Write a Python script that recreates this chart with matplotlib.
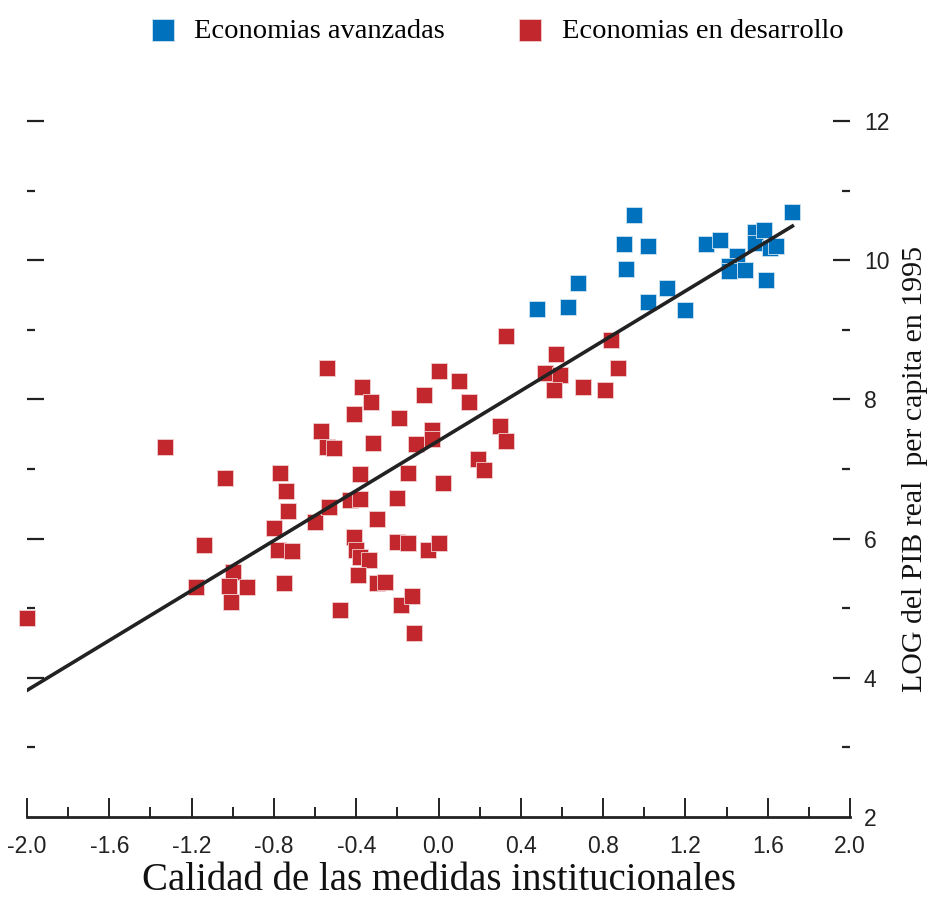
import numpy as np
import matplotlib.pyplot as plt
from matplotlib.ticker import MultipleLocator, FixedLocator

# Economias avanzadas (calidad institucional, log PIB per capita 1995)
adv_x = [0.48, 0.63, 0.68, 0.90, 0.91, 0.95, 1.02, 1.02, 1.11, 1.20,
         1.30, 1.37, 1.45, 1.41, 1.41, 1.49, 1.54, 1.54, 1.58, 1.59,
         1.61, 1.64, 1.72]
adv_y = [9.30, 9.33, 9.67, 10.23, 9.87, 10.65, 10.20, 9.40, 9.60, 9.28,
         10.23, 10.29, 10.06, 9.92, 9.84, 9.86, 10.41, 10.25, 10.43, 9.72,
         10.18, 10.21, 10.69]

# Economias en desarrollo
dev_x = [-2.00, -1.33, -1.14, -1.18, -1.04, -1.00, -1.02, -1.01, -0.93, -0.80,
         -0.77, -0.74, -0.73, -0.78, -0.71, -0.75, -0.60, -0.57, -0.54, -0.54,
         -0.51, -0.53, -0.48, -0.41, -0.37, -0.33, -0.32, -0.38, -0.43, -0.38,
         -0.30, -0.41, -0.40, -0.38, -0.34, -0.39, -0.30, -0.26, -0.19, -0.20,
         -0.20, -0.15, -0.15, -0.18, -0.13, -0.12, -0.11, -0.07, -0.03, -0.03,
         -0.05, 0.00, 0.00, 0.02, 0.10, 0.15, 0.19, 0.22, 0.30, 0.33,
         0.33, 0.52, 0.57, 0.59, 0.56, 0.70, 0.81, 0.84, 0.87]
dev_y = [4.86, 7.32, 5.91, 5.30, 6.87, 5.52, 5.32, 5.09, 5.30, 6.15,
         6.94, 6.68, 6.40, 5.84, 5.82, 5.36, 6.24, 7.55, 8.45, 7.32,
         7.30, 6.45, 4.97, 7.79, 8.18, 7.96, 7.37, 6.93, 6.55, 6.57,
         6.28, 6.02, 5.84, 5.74, 5.69, 5.48, 5.36, 5.38, 7.73, 6.58,
         5.95, 5.94, 6.94, 5.05, 5.18, 4.64, 7.36, 8.07, 7.56, 7.43,
         5.84, 5.94, 8.41, 6.80, 8.26, 7.96, 7.14, 6.98, 7.62, 7.40,
         8.91, 8.38, 8.65, 8.35, 8.13, 8.18, 8.13, 8.85, 8.45]

# recta de tendencia (extremos)
trend_x = [-2.0, 1.72]
trend_y = [3.82, 10.49]

x_ticks = [-2.0, -1.6, -1.2, -0.8, -0.4, 0.0, 0.4, 0.8, 1.2, 1.6, 2.0]
x_labels = ['-2.0', '-1.6', '-1.2', '-0.8', '-0.4', '0.0', '0.4', '0.8', '1.2', '1.6', '2.0']
y_ticks = [2, 4, 6, 8, 10, 12]

blue = '#0071bc'
red = '#c1272d'
serif = ['Liberation Serif', 'DejaVu Serif']
sans = ['Liberation Sans', 'DejaVu Sans']

fig = plt.figure(figsize=(9.32, 9.0), dpi=100)
ax = fig.add_axes([27 / 932, 1 - 817 / 900, (850 - 27) / 932, (817 - 121) / 900])

ax.plot(trend_x, trend_y, color='#222222', linewidth=2.6, zorder=3)
ax.scatter(dev_x, dev_y, marker='s', s=11.5 ** 2, color=red, clip_on=False,
           edgecolors='#f2d0d0', linewidths=0.6, zorder=2, label='Economias en desarrollo')
ax.scatter(adv_x, adv_y, marker='s', s=11.5 ** 2, color=blue, clip_on=False,
           edgecolors='#cfe3f2', linewidths=0.6, zorder=2, label='Economias avanzadas')

ax.set_xlim(-2.0, 2.0)
ax.set_ylim(2, 12)

for side in ['top', 'left', 'right']:
    ax.spines[side].set_visible(False)
ax.spines['bottom'].set_linewidth(2)
ax.spines['bottom'].set_color('#222222')

ax.xaxis.set_major_locator(FixedLocator(x_ticks))
ax.xaxis.set_minor_locator(MultipleLocator(0.2))
ax.set_xticklabels(x_labels, fontfamily=sans, fontsize=16.5)
ax.tick_params(axis='x', which='major', direction='in', length=14, width=1.4,
               color='#222222', pad=13, labelcolor='#222222')
ax.tick_params(axis='x', which='minor', direction='in', length=7, width=1.4, color='#222222')

ax.yaxis.set_major_locator(FixedLocator(y_ticks))
ax.yaxis.set_minor_locator(MultipleLocator(1))
ax.tick_params(axis='y', which='major', direction='in', length=12, width=1.6,
               color='#222222', left=True, right=True, labelleft=False, labelright=True,
               pad=10, labelsize=16.5, labelcolor='#222222')
ax.tick_params(axis='y', which='minor', direction='in', length=6, width=1.6,
               color='#222222', left=True, right=True)
for lab in ax.get_yticklabels():
    lab.set_fontfamily(sans)
# el 2 no lleva marca a la izquierda
ax.yaxis.get_major_ticks()[0].tick1line.set_visible(False)
ax.yaxis.get_major_ticks()[0].tick2line.set_visible(False)

ax.set_xlabel('Calidad de las medidas institucionales', fontfamily=serif, fontsize=28,
              labelpad=3, color='#111111')
ax.yaxis.set_label_position('right')
ax.set_ylabel('LOG del PIB real  per capita en 1995', fontfamily=serif, fontsize=21.5,
              rotation=90, labelpad=9, color='#111111')

handles, labels = ax.get_legend_handles_labels()
leg = fig.legend(handles[::-1], labels[::-1], loc='center', bbox_to_anchor=(0.532, 0.966),
                 ncol=2, frameon=False, prop={'family': serif, 'size': 20.5},
                 handletextpad=0.6, columnspacing=2.5, markerscale=1.35,
                 handlelength=1.0)

fig.savefig('out.png', dpi=100)
